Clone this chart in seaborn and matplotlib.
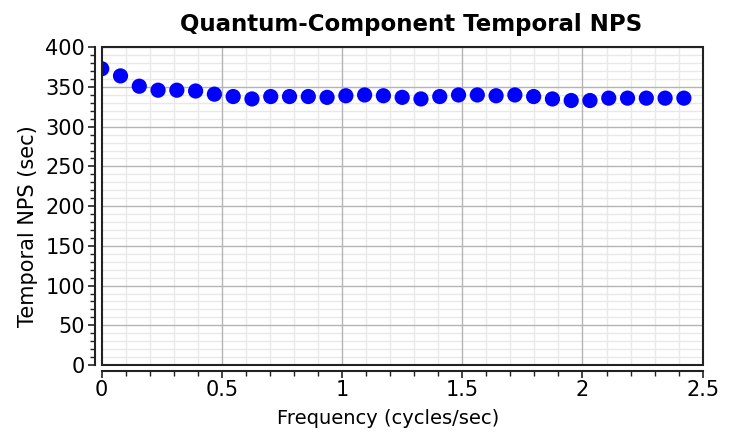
import matplotlib
matplotlib.use("Agg")
import matplotlib.pyplot as plt
from matplotlib.patches import Rectangle
from matplotlib.ticker import MultipleLocator
import numpy as np
import pandas as pd
import seaborn as sns

# Temporal noise power spectrum of the quantum component
bin_width = 0.078125  # cycles/sec per frequency bin
bin_index = list(range(32))
nps_values = [373, 364, 351, 346, 346, 345, 341, 338, 335, 338,
              338, 338, 337, 339, 340, 339, 337, 335, 338, 340,
              340, 339, 340, 338, 335, 333, 333, 336, 336, 336,
              336, 336]

title = "Quantum-Component Temporal NPS"
x_label = "Frequency (cycles/sec)"
y_label = "Temporal NPS (sec)"
x_major = [0, 0.5, 1, 1.5, 2, 2.5]
x_tick_labels = ["0", "0.5", "1", "1.5", "2", "2.5"]
y_major = list(range(0, 401, 50))

df = pd.DataFrame({"freq": np.array(bin_index) * bin_width, "nps": nps_values})

sns.set_theme(style="white")
plt.rcParams["font.family"] = ["DejaVu Sans"]
plt.rcParams["text.color"] = "black"
plt.rcParams["axes.labelcolor"] = "black"

fig = plt.figure(figsize=(7.35, 4.34), dpi=100)
ax = fig.add_axes([0.1384, 0.159, 0.8176, 0.732])

sns.scatterplot(data=df, x="freq", y="nps", ax=ax, color="#0000ff",
                s=120, edgecolor="none", linewidth=0, zorder=3)

ax.set_xlim(0, 2.5)
ax.set_ylim(0, 400)
ax.set_xticks(x_major)
ax.set_xticklabels(x_tick_labels)
ax.set_yticks(y_major)
ax.xaxis.set_minor_locator(MultipleLocator(0.1))
ax.yaxis.set_minor_locator(MultipleLocator(10))

# light minor grid underneath, darker major lines drawn on top of it
ax.grid(which="minor", color="#e8e8e8", linewidth=1.0)
ax.grid(which="major", visible=False)
ax.set_axisbelow(True)
for xv in x_major[1:-1]:
    ax.axvline(xv, color="#b4b4b4", linewidth=1.0, zorder=1)
for yv in y_major[1:]:
    ax.axhline(yv, color="#b4b4b4", linewidth=1.0, zorder=1)

# offset axis lines plus a closed frame round the data area
sns.despine(ax=ax, offset={"left": 5, "bottom": 4})
for side in ("left", "bottom"):
    ax.spines[side].set_color("#222222")
    ax.spines[side].set_linewidth(1.5)
frame = Rectangle((0, 0), 1, 1, transform=ax.transAxes, fill=False,
                  edgecolor="#222222", linewidth=1.5, zorder=5, clip_on=False)
ax.add_patch(frame)

ax.tick_params(which="major", direction="out", length=5, width=1.2,
               color="#222222", labelsize=15, labelcolor="black",
               left=True, bottom=True, pad=2)
ax.tick_params(which="minor", direction="out", length=3.5, width=1.0,
               color="#222222", left=True, bottom=True)

ax.set_xlabel(x_label, fontsize=14, labelpad=6, x=0.477)
ax.set_ylabel(y_label, fontsize=15, labelpad=5, y=0.437)
ax.set_title(title, fontsize=16.5, fontweight="bold", pad=12, x=0.515)

fig.savefig("out.png", dpi=100)
